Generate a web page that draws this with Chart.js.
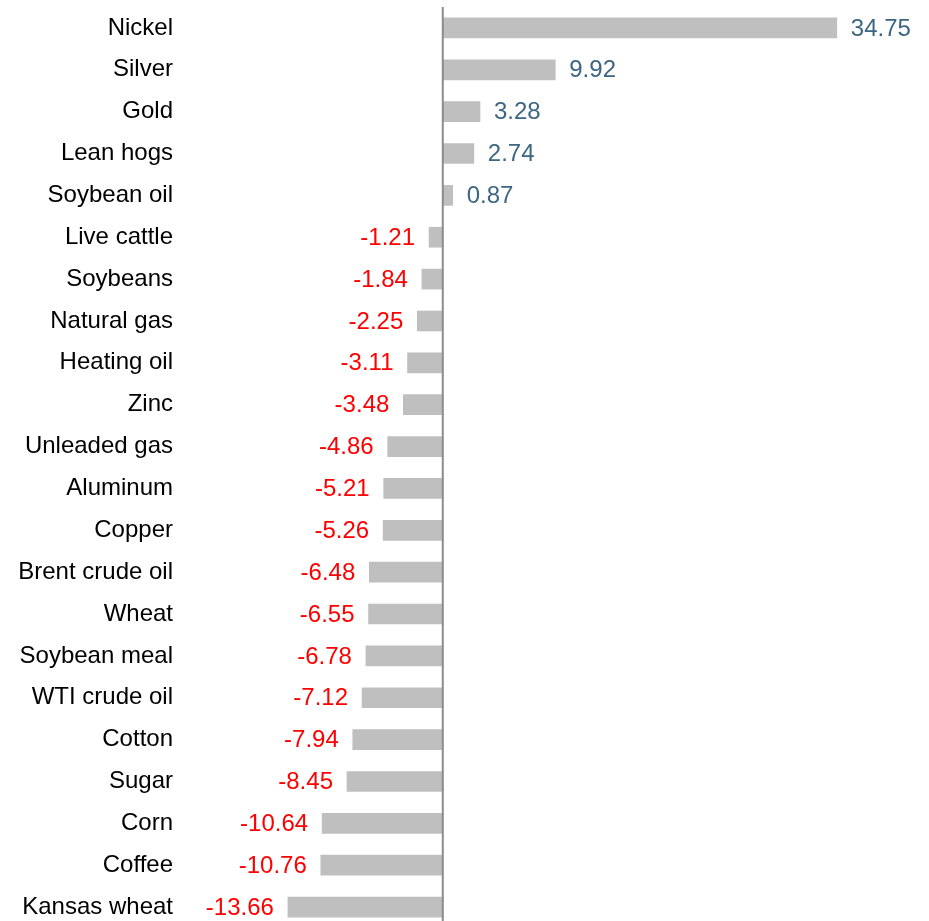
<!DOCTYPE html>
<html lang="en">
  <head>
    <meta charset="UTF-8" />
    <title>Commodities</title>
    <script src="https://cdn.jsdelivr.net/npm/chart.js@4.4.0/dist/chart.umd.min.js"></script>
    <style>
      html, body { margin: 0; padding: 0; background: #fff; overflow: hidden; }
      #wrap { width: 929px; height: 928px; position: relative; }
    </style>
  </head>
  <body>
    <div id="wrap"><canvas id="chart"></canvas></div>
    <script>
      const labels = [
        "Nickel", "Silver", "Gold", "Lean hogs", "Soybean oil", "Live cattle",
        "Soybeans", "Natural gas", "Heating oil", "Zinc", "Unleaded gas",
        "Aluminum", "Copper", "Brent crude oil", "Wheat", "Soybean meal",
        "WTI crude oil", "Cotton", "Sugar", "Corn", "Coffee", "Kansas wheat",
      ];
      const values = [
        34.75, 9.92, 3.28, 2.74, 0.87, -1.21, -1.84, -2.25, -3.11, -3.48, -4.86,
        -5.21, -5.26, -6.48, -6.55, -6.78, -7.12, -7.94, -8.45, -10.64, -10.76,
        -13.66,
      ];

      const FONT = "Liberation Sans, Arial, sans-serif";

      // value labels next to bar ends + the zero line
      const barLabels = {
        id: "barLabels",
        afterDatasetsDraw(chart) {
          const ctx = chart.ctx;
          const x0 = chart.scales.x.getPixelForValue(0);
          const area = chart.chartArea;
          ctx.save();
          ctx.strokeStyle = "#8c8c8c";
          ctx.lineWidth = 2;
          ctx.beginPath();
          ctx.moveTo(x0, area.top);
          ctx.lineTo(x0, area.bottom);
          ctx.stroke();

          ctx.font = "24px " + FONT;
          ctx.textBaseline = "middle";
          chart.getDatasetMeta(0).data.forEach((bar, i) => {
            const v = values[i];
            if (v >= 0) {
              ctx.fillStyle = "#3d6683";
              ctx.textAlign = "left";
              ctx.fillText(v.toFixed(2), bar.x + 14, bar.y + 1);
            } else {
              ctx.fillStyle = "#ff0000";
              ctx.textAlign = "right";
              ctx.fillText(v.toFixed(2), bar.x - 14, bar.y + 1);
            }
          });
          ctx.restore();
        },
      };

      new Chart(document.getElementById("chart"), {
        type: "bar",
        data: {
          labels: labels,
          datasets: [
            {
              data: values,
              backgroundColor: "#bfbfbf",
              barThickness: 20,
            },
          ],
        },
        options: {
          indexAxis: "y",
          responsive: true,
          maintainAspectRatio: false,
          animation: false,
          layout: { padding: { top: 7, right: 10, bottom: 0, left: 0 } },
          plugins: {
            legend: { display: false },
            tooltip: { enabled: false },
          },
          scales: {
            x: {
              display: false,
              min: -23,
              max: 42,
            },
            y: {
              grid: { display: false, drawTicks: false },
              border: { display: false },
              ticks: {
                color: "#000",
                padding: 9,
                font: { family: FONT, size: 24 },
              },
              afterFit(scale) {
                scale.width = 182;
                scale.paddingTop = 0;
                scale.paddingBottom = 0;
              },
            },
          },
        },
        plugins: [barLabels],
      });
    </script>
  </body>
</html>
